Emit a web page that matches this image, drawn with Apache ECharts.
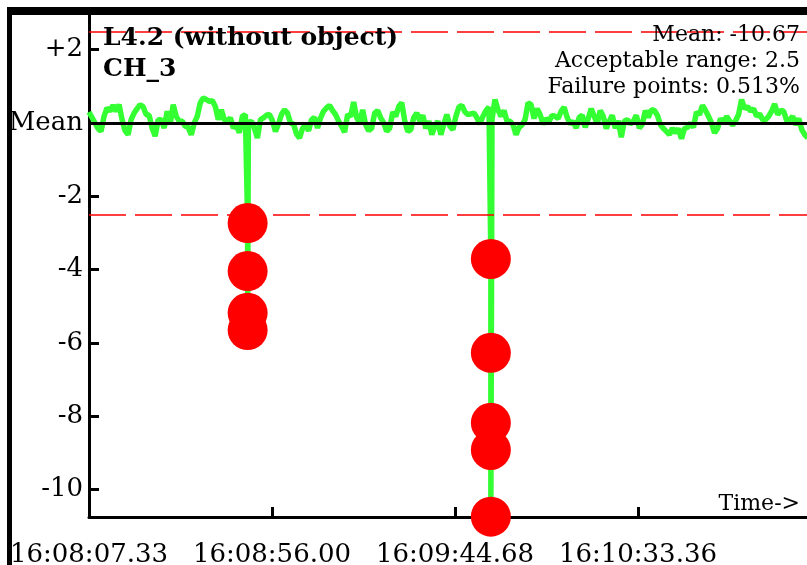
<!DOCTYPE html>
<html>
<head>
<meta charset="utf-8">
<script src="https://cdn.jsdelivr.net/npm/echarts@6/dist/echarts.min.js"></script>
<style>
  html, body { margin: 0; padding: 0; background: #fff; }
  #chart { width: 807px; height: 565px; }
</style>
</head>
<body>
<div id="chart"></div>
<script>
// readings relative to the mean, one every sampleStep seconds
var sampleStep = 0.8;
var signal = [
  0.30, 0.15, 0.00, -0.15, -0.23, 0.18, 0.41, 0.32, 0.48, 0.32,
  0.50, 0.09, -0.21, -0.32, 0.09, 0.27, 0.39, 0.50, 0.44, 0.23,
  0.21, -0.14, -0.36, 0.09, 0.09, -0.14, 0.32, -0.03, 0.50, 0.18,
  0.05, 0.05, -0.09, -0.12, -0.32, 0.00, 0.18, 0.55, 0.68, 0.64,
  0.59, 0.61, 0.45, 0.09, 0.36, 0.09, 0.05, 0.14, -0.14, -0.05,
  -0.27, 0.18, 0.23, 0.00, 0.05, -0.14, -0.41, 0.09, 0.14, 0.21,
  0.23, 0.06, -0.23, -0.03, 0.23, 0.36, 0.27, 0.00, -0.03, -0.30,
  -0.41, -0.15, -0.05, -0.21, 0.09, 0.15, -0.14, 0.14, 0.32, 0.41,
  0.48, 0.34, 0.23, 0.05, -0.09, -0.25, 0.23, 0.18, 0.57, 0.15,
  0.00, 0.36, -0.05, -0.21, -0.14, 0.27, 0.34, 0.14, 0.00, -0.23,
  -0.14, 0.30, 0.18, 0.45, 0.55, 0.05, -0.23, -0.18, 0.15, 0.27,
  0.05, 0.21, -0.15, 0.05, -0.32, -0.09, 0.05, -0.32, -0.03, 0.23,
  -0.09, -0.18, 0.18, 0.43, 0.48, 0.30, 0.23, 0.25, 0.27, 0.14,
  -0.03, 0.18, 0.34, 0.43, 0.09, 0.64, 0.36, 0.18, 0.34, 0.05,
  0.05, -0.05, -0.32, -0.12, -0.05, 0.09, 0.55, 0.50, 0.12, 0.39,
  0.23, -0.03, 0.12, 0.05, 0.21, 0.18, 0.12, 0.32, 0.43, 0.15,
  -0.03, 0.05, -0.14, 0.15, 0.21, -0.12, 0.12, 0.39, 0.18, -0.03,
  0.34, 0.18, -0.15, 0.05, 0.21, -0.14, 0.06, -0.39, 0.05, 0.09,
  -0.03, 0.05, 0.21, -0.14, -0.03, 0.34, 0.15, 0.36, 0.34, 0.21,
  -0.05, -0.15, -0.23, -0.32, -0.14, -0.27, -0.15, -0.43, -0.15, -0.12,
  0.00, -0.12, 0.30, 0.23, 0.48, 0.34, 0.18, 0.00, -0.27, -0.15,
  0.12, 0.00, 0.18, 0.06, -0.06, 0.06, 0.23, 0.64, 0.39, 0.45,
  0.32, 0.39, 0.18, 0.25, 0.09, 0.09, 0.18, 0.32, 0.52, 0.23,
  0.34, 0.32, 0.06, 0.09, 0.18, -0.05, 0.12, -0.18, -0.32, -0.41
];
// the two failure bursts (seconds from start, values)
var failTimes = [42.2, 106.9];
var failValues = [
  [-2.73, -4.04, -5.18, -5.65],
  [-3.71, -6.27, -8.18, -8.92, -10.74]
];
var acceptRange = 2.5;
var yTicks = [-10, -8, -6, -4, -2, 0, 2];
var xTicks = [0, 48.67, 97.35, 146.03];
var xTickLabels = ['16:08:07.33', '16:08:56.00', '16:09:44.68', '16:10:33.36'];
var infoLines = ['Mean: -10.67', 'Acceptable range: 2.5', 'Failure points: 0.513%'];

var serif = 'DejaVu Serif';

// build the line, dropping each failure burst in at its time
var lineData = [];
var failPoints = [];
var f = 0;
for (var i = 0; i < signal.length; i++) {
    var t = i * sampleStep;
    while (f < failTimes.length && failTimes[f] <= t) {
        failValues[f].forEach(function (v) {
            lineData.push([failTimes[f], v]);
            failPoints.push([failTimes[f], v]);
        });
        f++;
    }
    lineData.push([t, signal[i]]);
}

var infoText = infoLines.map(function (s, k) {
    return {
        type: 'text',
        z: 50,
        style: {
            x: 800,
            y: 35 + k * 26,
            text: s,
            align: 'right',
            verticalAlign: 'middle',
            fill: '#000',
            font: '22px "' + serif + '"'
        }
    };
});

var chart = echarts.init(document.getElementById('chart'));
var option = {
    animation: false,
    grid: {
        left: 89,
        right: 0,
        top: 13,
        bottom: 48,
        outerBoundsMode: 'none',
        containLabel: false
    },
    xAxis: {
        type: 'value',
        min: 0,
        max: 191,
        axisLine: { onZero: false, lineStyle: { color: '#000', width: 3 } },
        axisTick: {
            inside: true,
            length: 10,
            customValues: xTicks,
            lineStyle: { color: '#000', width: 3 }
        },
        axisLabel: {
            customValues: xTicks,
            margin: 25,
            color: '#000',
            fontFamily: serif,
            fontSize: 26,
            formatter: function (v) {
                var best = 0;
                for (var k = 1; k < xTicks.length; k++) {
                    if (Math.abs(xTicks[k] - v) < Math.abs(xTicks[best] - v)) best = k;
                }
                return xTickLabels[best];
            }
        },
        splitLine: { show: false }
    },
    yAxis: {
        type: 'value',
        min: -10.75,
        max: 3,
        axisLine: { show: true, onZero: false, lineStyle: { color: '#000', width: 3 } },
        axisTick: {
            show: true,
            inside: true,
            length: 10,
            customValues: yTicks,
            lineStyle: { color: '#000', width: 3 }
        },
        axisLabel: {
            customValues: yTicks,
            margin: 6,
            color: '#000',
            fontFamily: serif,
            fontSize: 26,
            formatter: function (v) {
                if (v === 0) return 'Mean';
                return v > 0 ? '+' + v : String(v);
            }
        },
        splitLine: { show: false }
    },
    title: [{
        text: 'L4.2 (without object)\nCH_3',
        left: 98,
        top: 18,
        textStyle: {
            fontFamily: serif,
            fontWeight: 'bold',
            fontSize: 25,
            lineHeight: 31,
            color: '#000'
        }
    }, {
        text: 'Time->',
        right: 2,
        top: 488,
        textStyle: {
            fontFamily: serif,
            fontWeight: 'normal',
            fontSize: 22,
            color: '#000'
        }
    }],
    series: [{
        type: 'line',
        data: [],
        z: 1,
        silent: true,
        markLine: {
            silent: true,
            symbol: 'none',
            label: { show: false },
            data: [
                { yAxis: 0, lineStyle: { color: '#000', width: 3, type: 'solid' } },
                { yAxis: acceptRange, lineStyle: { color: '#ff0000', width: 1.5, type: [37, 9] } },
                { yAxis: -acceptRange, lineStyle: { color: '#ff0000', width: 1.5, type: [37, 9] } }
            ]
        }
    }, {
        name: 'CH_3',
        type: 'line',
        data: lineData,
        z: 2,
        showSymbol: false,
        lineStyle: { color: '#33ff33', width: 5.5 }
    }, {
        name: 'Failures',
        type: 'scatter',
        data: failPoints,
        z: 3,
        symbolSize: 40,
        itemStyle: { color: '#ff0000', opacity: 1 }
    }],
    graphic: [{
        type: 'rect',
        shape: { x: 7, y: 7, width: 800, height: 8 },
        style: { fill: '#000' },
        z: 100
    }, {
        type: 'rect',
        shape: { x: 7, y: 7, width: 5, height: 558 },
        style: { fill: '#000' },
        z: 100
    }].concat(infoText)
};
chart.setOption(option);
</script>
</body>
</html>
